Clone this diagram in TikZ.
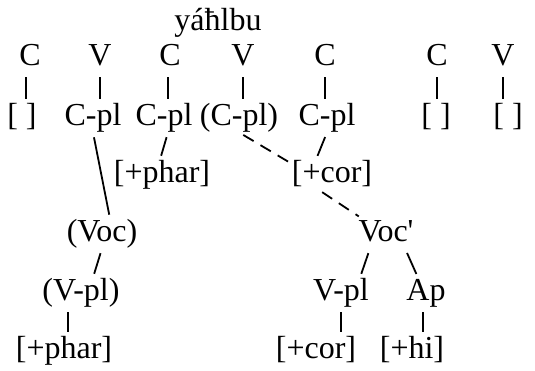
\documentclass[tikz,border=0pt]{standalone}
\usepackage{fontspec}
\setmainfont{Liberation Serif}
\begin{document}
\begin{tikzpicture}[x=0.5pt,y=-0.5pt,
  seg/.style={anchor=base,inner sep=0pt,text height=11pt,text depth=3.5pt,font=\fontsize{16}{19}\selectfont},
  tie/.style={line width=0.9pt,shorten <=2.5pt,shorten >=2pt},
  loose/.style={tie,dash pattern=on 6pt off 4pt}]
\useasboundingbox (0,0) rectangle (535,370);
\node[seg] (word) at (218,30) {yáħlbu};
% skeleton
\node[seg] (c1) at (30,65) {C};
\node[seg] (v1) at (100,65) {V};
\node[seg] (c2) at (170,65) {C};
\node[seg] (v2) at (243,65) {V};
\node[seg] (c3) at (325,65) {C};
\node[seg] (c4) at (437,65) {C};
\node[seg] (v3) at (503,65) {V};
% place nodes
\node[seg] (e1) at (22,125) {[ ]};
\node[seg] (pl1) at (93,125) {C-pl};
\node[seg] (pl2) at (164,125) {C-pl};
\node[seg] (pl3) at (239,125) {(C-pl)};
\node[seg] (pl4) at (327,125) {C-pl};
\node[seg] (e2) at (436,125) {[ ]};
\node[seg] (e3) at (508,125) {[ ]};
\node[seg] (phar1) at (162,182) {[+phar]};
\node[seg] (cor1) at (332,182) {[+cor]};
\node[seg] (voc1) at (102,241) {(Voc)};
\node[seg] (voc2) at (386,241) {Voc\textquotesingle};
\node[seg] (vpl1) at (81,300) {(V-pl)};
\node[seg] (vpl2) at (341,300) {V-pl};
\node[seg] (ap) at (426,300) {Ap};
\node[seg] (phar2) at (64,358) {[+phar]};
\node[seg] (cor2) at (316,358) {[+cor]};
\node[seg] (hi) at (412,358) {[+hi]};
% links
\draw[tie] ([xshift=-2pt]c1.south) -- ([xshift=-2pt]c1.south |- e1.north);
\draw[tie] (v1.south) -- (v1.south |- pl1.north);
\draw[tie] ([xshift=-1pt]c2.south) -- ([xshift=-1pt]c2.south |- pl2.north);
\draw[tie] (v2.south) -- (v2.south |- pl3.north);
\draw[tie] (c3.south) -- (c3.south |- pl4.north);
\draw[tie] (c4.south) -- (c4.south |- e2.north);
\draw[tie] (v3.south) -- (v3.south |- e3.north);
\draw[tie] ([xshift=2pt]pl2.south) -- ([xshift=-1pt]phar1.north);
\draw[tie] (pl4.south) -- ([xshift=-8pt]cor1.north);
\draw[tie] (pl1.south) -- ([xshift=4pt]voc1.north);
\draw[loose] (pl3.south) -- ([yshift=-2pt]cor1.north west);
\draw[loose] ([xshift=-7pt]cor1.south) -- ([xshift=2pt]voc2.north west);
\draw[tie] (voc1.south) -- ([xshift=6pt]vpl1.north);
\draw[tie] ([xshift=-8pt]voc2.south) -- ([xshift=9.5pt]vpl2.north);
\draw[tie] ([xshift=9.5pt]voc2.south) -- ([xshift=-4pt]ap.north);
\draw[tie] ([xshift=-6.5pt]vpl1.south) -- ([xshift=-6.5pt]vpl1.south |- phar2.north);
\draw[tie] (vpl2.south) -- (vpl2.south |- cor2.north);
\draw[tie] ([xshift=-1.5pt]ap.south) -- ([xshift=-1.5pt]ap.south |- hi.north);
\end{tikzpicture}
\end{document}
